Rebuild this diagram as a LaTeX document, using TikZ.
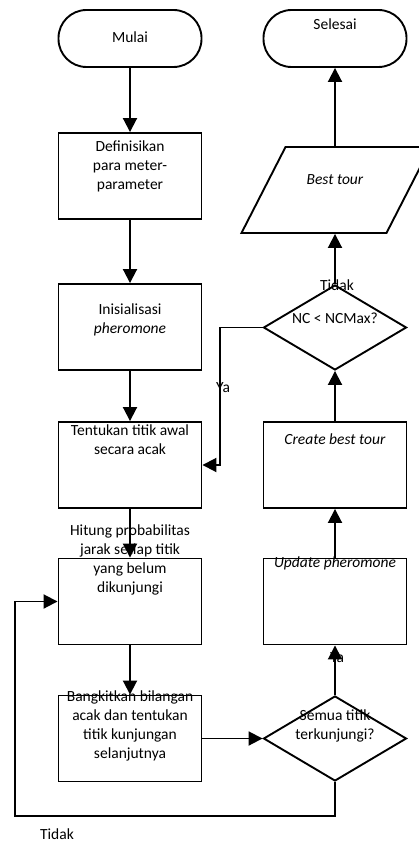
\documentclass[tikz,border=0pt]{standalone}
\usepackage{fontspec}
\setmainfont{Carlito}
\usetikzlibrary{arrows.meta,shapes.geometric}

\begin{document}
\begin{tikzpicture}[x=1pt,y=-1pt]
            \tikzstyle{terminal}=[rectangle, rounded corners=28pt, minimum width=143pt, minimum height=57pt, line width=1.9pt, draw=black]
            \tikzstyle{process}=[rectangle, minimum width=143pt, minimum height=86pt, line width=1.9pt, draw=black]
            \tikzstyle{decision}=[diamond, minimum width=143pt, minimum height=85pt, inner sep=0pt, line width=1.9pt, draw=black]
            \tikzstyle{inout}=[rectangle, minimum width=145pt, minimum height=86pt, line width=1.9pt, draw=black, xslant=0.512, transform shape]
            \tikzstyle{txt}=[align=center, inner sep=0pt, font=\fontsize{15.5}{19}\selectfont]
            \tikzstyle{connect}=[line width=1.9pt, -{Triangle[length=14pt,width=14pt]}]
            \useasboundingbox (0,0) rectangle (418,845);
            {\node[terminal] (mulai) at (130,38.5){};
            \node[process] (def) at (130,176){};
            \node[process] (init) at (130,327){};
            \node[process] (awal) at (130,465){};
            \node[process] (hitung) at (130,601.5){};
            \node[process] (acak) at (130,738.5){};
            \node[terminal] (selesai) at (335,38.5){};
            \node[inout] (best) at (336,190){};
            \node[decision] (nc) at (335,327.5){};
            \node[process] (create) at (335,465){};
            \node[process] (update) at (335,601.5){};
            \node[decision] (semua) at (335,738.5){};
            \coordinate (kiri) at (15,816);}
            {\node[txt] (tmulai) at (130,37){Mulai};
            \node[txt] (tdef) at (130,166){Definisikan\\para meter-\\parameter};
            \node[txt] (tinit) at (130,319.5){Inisialisasi\\\textit{pheromone}};
            \node[txt] (tawal) at (130,439.5){Tentukan titik awal\\secara acak};
            \node[txt] (thitung) at (130,560){Hitung probabilitas\\jarak setiap titik\\yang belum\\dikunjungi};
            \node[txt] (tacak) at (130,725.5){Bangkitkan bilangan\\acak dan tentukan\\titik kunjungan\\selanjutnya};
            \node[txt] (tselesai) at (335,24){Selesai};
            \node[txt] (tbest) at (335,180){\textit{Best tour}};
            \node[txt] (tnc) at (335,318){NC < NCMax?};
            \node[txt] (tcreate) at (335,439){\textit{Create best tour}};
            \node[txt] (tupdate) at (335,563){\textit{Update pheromone}};
            \node[txt] (tsemua) at (335,726){Semua titik\\terkunjungi?};
            \node[txt] (ya1) at (223,388){Ya};
            \node[txt] (ya2) at (337,658){Ya};
            \node[txt] (tidak1) at (337,285){Tidak};
            \node[txt] (tidak2) at (57,834){Tidak};}
            \path (mulai) edge [connect] (def);
            \path (def) edge [connect] (init);
            \path (init) edge [connect] (awal);
            \path (awal) edge [connect] (hitung);
            \path (hitung) edge [connect] (acak);
            \path (acak) edge [connect] (semua);
            \path (semua) edge [connect] (update);
            \path (update) edge [connect] (create);
            \path (create) edge [connect] (nc);
            \draw[connect] (nc.north) -- (nc.north |- best.south);
            \draw[connect] (selesai.south |- best.north) -- (selesai.south);
            \draw[connect] (nc.west) -- ++(-43,0) |- (awal.east);
            \draw[connect] (semua.south) |- (kiri) |- (hitung.west);
        \end{tikzpicture}
\end{document}
